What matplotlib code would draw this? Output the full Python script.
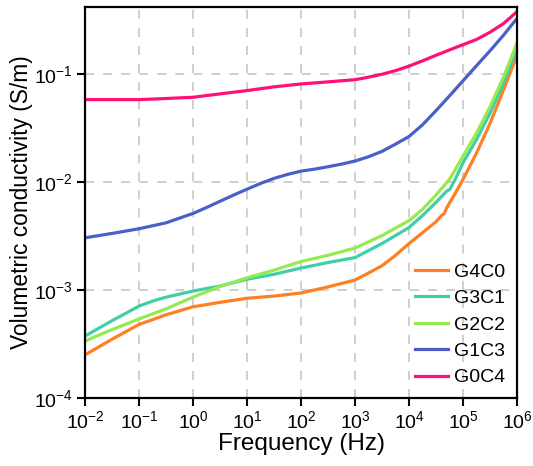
import numpy as np
import matplotlib
matplotlib.use("Agg")
import matplotlib.pyplot as plt
from matplotlib.ticker import LogLocator, FuncFormatter, NullLocator

plt.rcParams['font.family'] = ['Liberation Sans', 'DejaVu Sans']
plt.rcParams['mathtext.fontset'] = 'custom'
plt.rcParams['mathtext.rm'] = 'Liberation Sans'
plt.rcParams['mathtext.it'] = 'Liberation Sans'

# values: log10(frequency / Hz) and conductivity (S/m)
lf_g4c0 = [-2, -1.5, -1, -0.5, 0, 0.5, 1, 1.5, 2, 2.5, 3, 3.25, 3.5, 3.75, 4, 4.25, 4.5,
           4.6, 4.65, 4.7, 4.75, 4.85, 5, 5.25, 5.5, 5.75, 6]
g4c0 = [0.000251, 0.00035, 0.00048, 0.00059, 0.00070, 0.00077, 0.00084, 0.00088, 0.00094,
        0.00107, 0.00124, 0.00144, 0.00168, 0.0021, 0.0027, 0.0034, 0.0043,
        0.0049, 0.0051, 0.0058, 0.0064, 0.0078, 0.0106, 0.0186, 0.035, 0.0716, 0.15]

lf_g3c1 = [-2, -1.5, -1, -0.75, -0.5, 0, 0.5, 1, 1.5, 2, 2.5, 3, 3.5, 4, 4.25, 4.5,
           4.65, 4.7, 4.75, 4.85, 5, 5.25, 5.5, 5.75, 6]
g3c1 = [0.000375, 0.00052, 0.00071, 0.00079, 0.00086, 0.00098, 0.00109, 0.00126, 0.0014,
        0.0016, 0.0018, 0.0020, 0.0027, 0.0038, 0.0049, 0.0065,
        0.0078, 0.0083, 0.0085, 0.0105, 0.0151, 0.0248, 0.0436, 0.083, 0.175]

lf_g2c2 = [-2, -1.5, -1, -0.5, 0, 0.5, 1, 1.5, 2, 2.5, 3, 3.5, 4, 4.25, 4.5, 4.75,
           5, 5.25, 5.5, 5.75, 6]
g2c2 = [0.000337, 0.00043, 0.00054, 0.00067, 0.00086, 0.00108, 0.0013, 0.00153, 0.00184,
        0.0021, 0.00245, 0.0032, 0.0044, 0.0056, 0.0076, 0.0106,
        0.0174, 0.0285, 0.050, 0.094, 0.195]

lf_g1c3 = [-2, -1.5, -1, -0.5, 0, 0.25, 0.5, 0.75, 1, 1.25, 1.5, 1.75, 2, 2.25, 2.5, 2.75,
           3, 3.25, 3.5, 3.75, 4, 4.25, 4.5, 4.75, 5, 5.25, 5.5, 5.75, 6]
g1c3 = [0.00305, 0.00335, 0.0037, 0.0042, 0.00513, 0.00582, 0.00665, 0.00759, 0.00861,
        0.00973, 0.01084, 0.0118, 0.01265, 0.0132, 0.0139, 0.0147,
        0.0157, 0.0172, 0.0193, 0.0225, 0.0265, 0.034, 0.046, 0.063, 0.087, 0.12, 0.165,
        0.23, 0.33]

lf_g0c4 = [-2, -1, -0.5, 0, 0.5, 1, 1.5, 2, 2.5, 3, 3.25, 3.5, 3.75, 4, 4.25, 4.5, 4.75,
           5, 5.25, 5.5, 5.75, 6]
g0c4 = [0.0582, 0.0582, 0.0596, 0.0612, 0.0658, 0.0706, 0.0764, 0.0813, 0.0850, 0.089,
        0.094, 0.100, 0.108, 0.119, 0.133, 0.150, 0.168, 0.188, 0.21, 0.245, 0.295, 0.38]

series = [
    ("G4C0", lf_g4c0, g4c0, "#FF7F24"),
    ("G3C1", lf_g3c1, g3c1, "#3FCFA6"),
    ("G2C2", lf_g2c2, g2c2, "#96EA50"),
    ("G1C3", lf_g1c3, g1c3, "#4A60C8"),
    ("G0C4", lf_g0c4, g0c4, "#FF0F78"),
]

fig = plt.figure(figsize=(5.33, 4.66), dpi=100)
ax = fig.add_axes([85 / 533, 1 - 398 / 466, 432 / 533, 391 / 466])

for name, lf, vals, col in series:
    ax.plot(10.0 ** np.array(lf), vals, color=col, lw=2.3, label=name,
            solid_joinstyle='round')

ax.set_xscale('log')
ax.set_yscale('log')
ax.set_xlim(1e-2, 1e6)
ax.set_ylim(1e-4, 0.42)

ax.xaxis.set_major_locator(LogLocator(base=10, numticks=20))
ax.yaxis.set_major_locator(LogLocator(base=10, numticks=20))
ax.xaxis.set_minor_locator(NullLocator())
ax.yaxis.set_minor_locator(NullLocator())
fmt = FuncFormatter(lambda v, p: r'$\mathregular{10^{%d}}$' % int(round(np.log10(v))))
ax.xaxis.set_major_formatter(fmt)
ax.yaxis.set_major_formatter(fmt)

ax.grid(True, which='major', color='#cccccc', ls=(0, (5, 5)), lw=1.3)
ax.tick_params(axis='both', which='major', direction='out', length=5.5, width=1.5,
               labelsize=14, pad=3)
for s in ax.spines.values():
    s.set_linewidth(1.6)

ax.set_xlabel('Frequency (Hz)', fontsize=17.5, labelpad=1)
ax.set_ylabel('Volumetric conductivity (S/m)', fontsize=16.4, labelpad=1)

ax.legend(loc='lower right', frameon=False, fontsize=14, handlelength=1.7,
          handletextpad=0.3, labelspacing=0.45, borderaxespad=0.2)

fig.savefig('out.png', dpi=100)
